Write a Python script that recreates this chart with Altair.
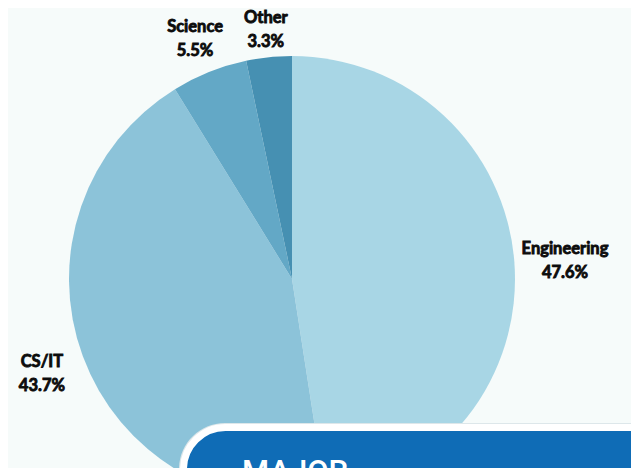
import math
import altair as alt
import pandas as pd

categories = ["Engineering", "CS/IT", "Science", "Other"]
values = [47.6, 43.7, 5.5, 3.3]
pct_labels = ["47.6%", "43.7%", "5.5%", "3.3%"]
colors = ["#a8d6e5", "#8cc3d9", "#63a8c6", "#4690b2"]

# ---- layout (not data) ----
CX, CY, R = 284, 271, 223
LABEL_GAP = 9          # distance between pie edge and label box
LABEL_H = 37           # height of a two-line label box
label_w = {"Engineering": 81, "CS/IT": 60, "Science": 66, "Other": 53}

df = pd.DataFrame({
    "category": categories,
    "value": values,
    "idx": list(range(len(categories))),
    "label": [f"{c}\n{p}" for c, p in zip(categories, pct_labels)],
})

total = sum(values)
cum = 0.0
radii = []
for c, v in zip(categories, values):
    mid = 2 * math.pi * (cum + v / 2) / total
    cum += v
    ux, uy = abs(math.sin(mid)), abs(math.cos(mid))
    radii.append(R + LABEL_GAP + ux * label_w[c] / 2 + uy * LABEL_H / 2)
df["lr"] = radii

pie = alt.Chart(df).mark_arc(outerRadius=R).encode(
    theta=alt.Theta("value:Q", stack=True),
    order=alt.Order("idx:Q"),
    x=alt.value(CX), y=alt.value(CY),
    color=alt.Color("category:N", scale=alt.Scale(domain=categories, range=colors), legend=None),
)

labels = alt.Chart(df).transform_window(
    cum="sum(value)", sort=[alt.SortField("idx")], frame=[None, 0]
).transform_calculate(
    mid="datum.cum - datum.value / 2"
).mark_text(
    font="Lato", fontWeight="bold", fontSize=16.5, lineBreak="\n",
    lineHeight=24, color="#0c0c0c", stroke="#0c0c0c", strokeWidth=0.85,
    baseline="middle", align="center", dy=-9,
).encode(
    theta=alt.Theta("mid:Q", stack=None,
                    scale=alt.Scale(domain=[0, total], range=[0, 2 * math.pi])),
    radius=alt.Radius("lr:Q", scale=None),
    x=alt.value(CX), y=alt.value(CY), text="label:N",
)

deco = pd.DataFrame({"t": ["MAJOR"]})

shadow = alt.Chart(deco).mark_rect(
    cornerRadius=46, fill="#dde7ea", stroke=None
).encode(x=alt.value(171), x2=alt.value(760), y=alt.value(415), y2=alt.value(600))

box = alt.Chart(deco).mark_rect(
    cornerRadius=42, fill="#0f6cb6", stroke="white", strokeWidth=7
).encode(x=alt.value(175.5), x2=alt.value(760), y=alt.value(419.5), y2=alt.value(600))

title = alt.Chart(deco).mark_text(
    font="Roboto", fontWeight=500, fontSize=31, color="white", align="left", baseline="alphabetic"
).encode(x=alt.value(234), y=alt.value(474), text="t:N")

chart = alt.layer(pie, labels, shadow, box, title).resolve_scale(theta="independent").properties(
    width=623, height=460, padding=0, autosize=alt.AutoSizeParams(type="none"),
    background="#f6fbfa",
).configure_view(stroke=None)

chart.save("out.html", embed_options={"renderer": "svg", "actions": False})
